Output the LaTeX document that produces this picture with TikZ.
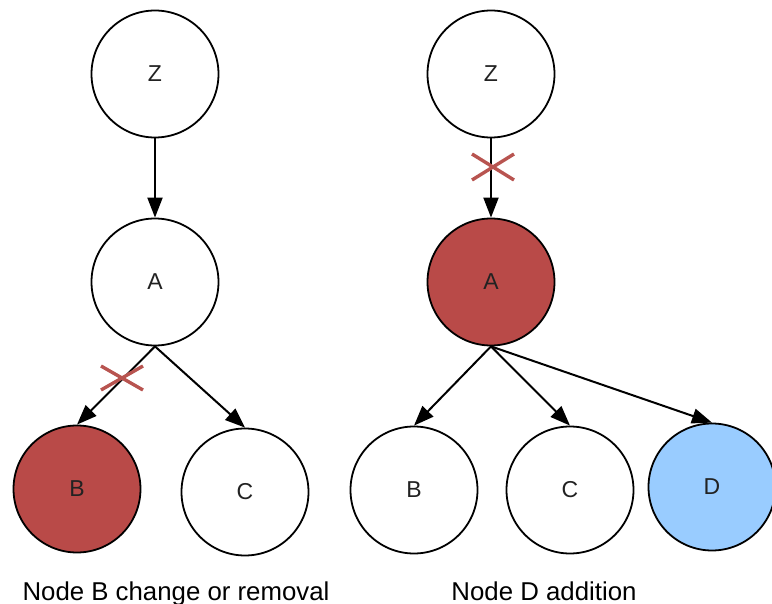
\documentclass[tikz,border=0pt]{standalone}
\usepackage{fontspec}
\setmainfont{Liberation Sans}
\usetikzlibrary{arrows.meta}
\definecolor{changed}{HTML}{B94A48}
\definecolor{added}{HTML}{99CCFF}
\definecolor{crossred}{HTML}{B85450}
\definecolor{labelgray}{HTML}{222222}
\tikzset{
  treenode/.style={circle, draw=black, line width=1.8pt, minimum size=127pt,
    inner sep=0pt, fill=white, text=labelgray, font=\fontsize{23}{27}\selectfont},
  link/.style={line width=2pt, -{Triangle[length=20pt,width=15pt]}},
  cut/.style={crossred, line width=3.4pt},
  caption/.style={font=\fontsize{25.8}{30}\selectfont, anchor=base}
}
\begin{document}
\begin{tikzpicture}[x=1pt,y=-1pt]
  \useasboundingbox (0,0) rectangle (772,604);
  \clip (0,0) rectangle (772,604);

  % left tree: node B changed or removed
  \node[treenode] (lz) at (155,74) {Z};
  \node[treenode] (la) at (155,282) {A};
  \node[treenode, fill=changed] (lb) at (77,489) {B};
  \node[treenode] (lc) at (245,492) {C};
  \draw[link] (lz.south) -- (la.north);
  \draw[link] (la.south) -- (lb.north);
  \draw[link] (la.south) -- (lc.north);
  \draw[cut] (101,366) -- (143,390) (101,390) -- (143,366);

  % right tree: node D added
  \node[treenode] (rz) at (491,74) {Z};
  \node[treenode, fill=changed] (ra) at (491,282) {A};
  \node[treenode] (rb) at (414,490) {B};
  \node[treenode] (rc) at (570,490) {C};
  \node[treenode, fill=added] (rd) at (712,487) {D};
  \draw[link] (rz.south) -- (ra.north);
  \draw[link] (ra.south) -- (rb.north);
  \draw[link] (ra.south) -- (rc.north);
  \draw[link] (ra.south) -- (rd.north);
  \draw[cut] (472,154) -- (514,180) (472,180) -- (514,154);

  % captions
  \node[caption] (capl) at (176,600) {Node B change or removal};
  \node[caption] (capr) at (544,600) {Node D addition};
\end{tikzpicture}
\end{document}
